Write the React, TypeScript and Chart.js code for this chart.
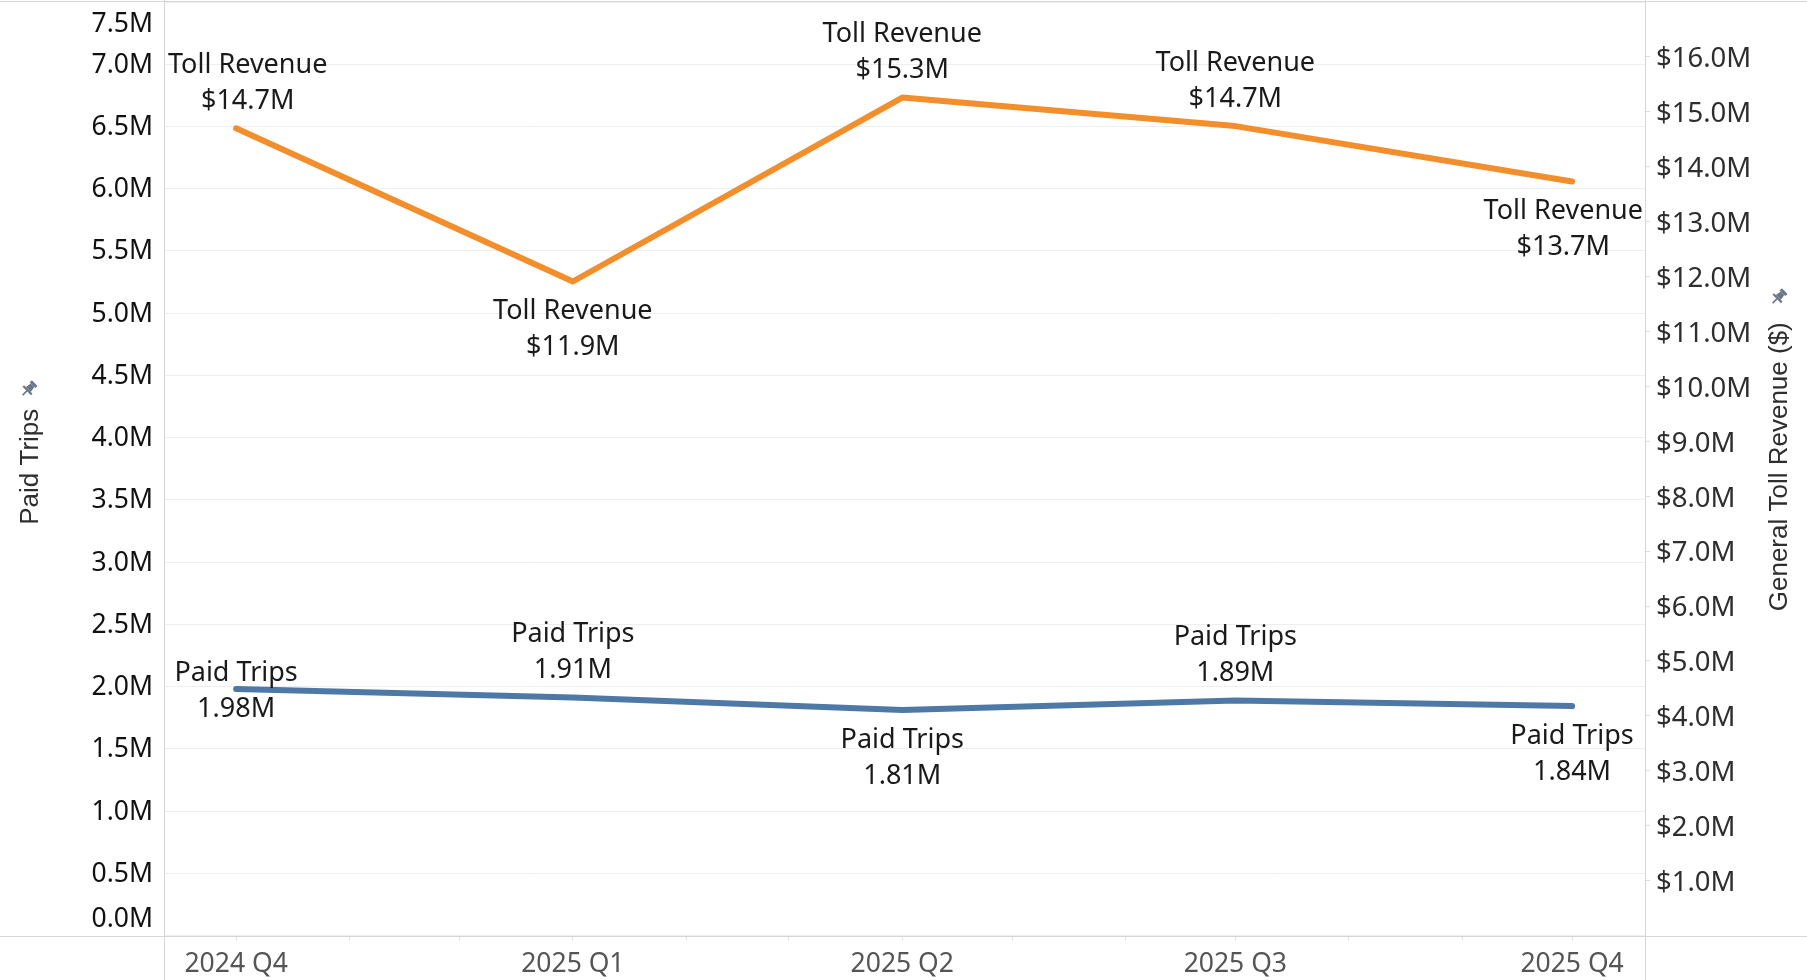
import React, { useEffect, useRef } from 'react';
import { Chart, registerables } from 'chart.js';

Chart.register(...registerables);

// ---------- data ----------
const categories = ['2024 Q4', '2025 Q1', '2025 Q2', '2025 Q3', '2025 Q4'];
const quarterStarts = ['2024-10-01', '2025-01-01', '2025-04-01', '2025-07-01', '2025-10-01'];
const monthStarts = [
  '2024-10-01', '2024-11-01', '2024-12-01', '2025-01-01', '2025-02-01', '2025-03-01', '2025-04-01',
  '2025-05-01', '2025-06-01', '2025-07-01', '2025-08-01', '2025-09-01', '2025-10-01',
];
const paidTrips = [1980000, 1912000, 1812000, 1888000, 1843000];
const tollRevenue = [14700000, 11910000, 15260000, 14740000, 13730000];
const paidTripsTicks = [
  0, 500000, 1000000, 1500000, 2000000, 2500000, 3000000, 3500000,
  4000000, 4500000, 5000000, 5500000, 6000000, 6500000, 7000000, 7500000,
];
const tollTicks = [
  1000000, 2000000, 3000000, 4000000, 5000000, 6000000, 7000000, 8000000,
  9000000, 10000000, 11000000, 12000000, 13000000, 14000000, 15000000, 16000000,
];
const seriesNames = ['Toll Revenue', 'Paid Trips'];
const tollLabelPlacement = ['above', 'below', 'above', 'above', 'below'];
const paidLabelPlacement = ['center', 'above', 'below', 'above', 'below'];

// ---------- helpers ----------
const DAY = 86400000;
const day0 = Date.parse(quarterStarts[0]);
const toDay = (s: string) => Math.round((Date.parse(s) - day0) / DAY);
const quarterDays = quarterStarts.map(toDay);
const monthDays = monthStarts.map(toDay);

const X_MIN = -19.7;
const X_MAX = 385.2;

const FONT = '"Noto Sans", "DejaVu Sans", sans-serif';
const TITLE_FONT = '"Liberation Sans", Arial, sans-serif';

const fmtTrips = (v: number) => (v / 1e6).toFixed(2) + 'M';
const fmtToll = (v: number) => '$' + (v / 1e6).toFixed(1) + 'M';

function drawPin(ctx: CanvasRenderingContext2D, cx: number, cy: number) {
  ctx.save();
  ctx.translate(cx, cy);
  ctx.rotate(Math.PI / 4);
  ctx.fillStyle = '#6b7787';
  ctx.fillRect(-4, -8, 8, 3);
  ctx.beginPath();
  ctx.moveTo(-2.5, -5);
  ctx.lineTo(2.5, -5);
  ctx.lineTo(3.5, 1);
  ctx.lineTo(-3.5, 1);
  ctx.closePath();
  ctx.fill();
  ctx.fillRect(-6, 1, 12, 2.2);
  ctx.fillRect(-0.8, 3, 1.6, 6);
  ctx.restore();
}

const zeroPad = (s: any) => {
  s.paddingTop = 0;
  s.paddingBottom = 0;
  s.paddingLeft = 0;
  s.paddingRight = 0;
};

const framePlugin = {
  id: 'frame',
  beforeDatasetsDraw(chart: any) {
    const { ctx, chartArea: a, width, height } = chart;
    ctx.save();
    ctx.lineWidth = 1;
    ctx.strokeStyle = '#d6d6d6';
    ctx.beginPath();
    ctx.moveTo(0, Math.round(a.top) - 0.5);
    ctx.lineTo(width, Math.round(a.top) - 0.5);
    ctx.moveTo(0, Math.round(a.bottom) + 0.5);
    ctx.lineTo(width, Math.round(a.bottom) + 0.5);
    ctx.moveTo(Math.round(a.left) + 0.5, 0);
    ctx.lineTo(Math.round(a.left) + 0.5, height);
    ctx.moveTo(Math.round(a.right) - 0.5, 0);
    ctx.lineTo(Math.round(a.right) - 0.5, height);
    ctx.stroke();
    ctx.restore();
  },
  afterDraw(chart: any) {
    const { ctx, chartArea: a } = chart;
    const yl = chart.scales.yLeft;
    ctx.save();
    // left tick labels (edge labels pulled inside like the reference)
    ctx.font = `26.5px ${FONT}`;
    ctx.fillStyle = '#111111';
    ctx.textAlign = 'right';
    ctx.textBaseline = 'middle';
    yl.ticks.forEach((t: any) => {
      let y = yl.getPixelForValue(t.value);
      y = Math.max(a.top + 21, Math.min(a.bottom - 17.5, y));
      ctx.fillText((t.value / 1e6).toFixed(1) + 'M', a.left - 11, y + 1);
    });
    // axis titles
    const cy = (a.top + a.bottom) / 2 - 2;
    ctx.font = `26px ${TITLE_FONT}`;
    ctx.fillStyle = '#2e2e2e';
    ctx.textAlign = 'center';
    ctx.save();
    ctx.translate(31, cy);
    ctx.rotate(-Math.PI / 2);
    ctx.fillText('Paid Trips', 0, 0);
    ctx.restore();
    ctx.save();
    ctx.translate(1780, cy);
    ctx.rotate(-Math.PI / 2);
    ctx.fillText('General Toll Revenue ($)', 0, 0);
    ctx.restore();
    drawPin(ctx, 29, cy - 78);
    drawPin(ctx, 1779, cy - 170);
    ctx.restore();
  },
  afterDatasetsDraw(chart: any) {
    const { ctx, chartArea: a } = chart;
    ctx.save();
    ctx.font = `27px ${FONT}`;
    ctx.fillStyle = '#1a1a1a';
    ctx.textAlign = 'center';
    ctx.textBaseline = 'middle';
    const sets = [
      { idx: 0, name: seriesNames[0], values: tollRevenue, fmt: fmtToll, place: tollLabelPlacement },
      { idx: 1, name: seriesNames[1], values: paidTrips, fmt: fmtTrips, place: paidLabelPlacement },
    ];
    sets.forEach((s) => {
      const meta = chart.getDatasetMeta(s.idx);
      meta.data.forEach((pt: any, i: number) => {
        const l1 = s.name;
        const l2 = s.fmt(s.values[i]);
        const w = Math.max(ctx.measureText(l1).width, ctx.measureText(l2).width);
        const cx = Math.max(a.left + 4 + w / 2, Math.min(a.right - 3 - w / 2, pt.x));
        let y1: number;
        if (s.place[i] === 'above') y1 = pt.y - 27 - 36;
        else if (s.place[i] === 'below') y1 = pt.y + 30;
        else y1 = pt.y - 16;
        ctx.fillText(l1, cx, y1);
        ctx.fillText(l2, cx, y1 + 36);
      });
    });
    ctx.restore();
  },
};

export default function App() {
  const ref = useRef<HTMLCanvasElement | null>(null);

  useEffect(() => {
    if (!ref.current) return;
    const chart = new Chart(ref.current, {
      type: 'line',
      data: {
        datasets: [
          {
            label: seriesNames[0],
            data: tollRevenue.map((v, i) => ({ x: quarterDays[i], y: v })),
            borderColor: '#F28E2B',
            backgroundColor: '#F28E2B',
            borderWidth: 6,
            borderCapStyle: 'round',
            borderJoinStyle: 'round',
            pointRadius: 0,
            yAxisID: 'yRight',
            tension: 0,
          },
          {
            label: seriesNames[1],
            data: paidTrips.map((v, i) => ({ x: quarterDays[i], y: v })),
            borderColor: '#4E79A7',
            backgroundColor: '#4E79A7',
            borderWidth: 6,
            borderCapStyle: 'round',
            borderJoinStyle: 'round',
            pointRadius: 0,
            yAxisID: 'yLeft',
            tension: 0,
          },
        ],
      },
      options: {
        responsive: false,
        animation: false,
        layout: { padding: { top: 2, left: 0, right: 0, bottom: 0 } },
        plugins: { legend: { display: false }, tooltip: { enabled: false } },
        scales: {
          x: {
            type: 'linear',
            min: X_MIN,
            max: X_MAX,
            afterBuildTicks: (s: any) => {
              s.ticks = monthDays.map((v) => ({ value: v }));
            },
            afterFit: (s: any) => {
              s.height = 44.5;
              zeroPad(s);
            },
            ticks: {
              autoSkip: false,
              maxRotation: 0,
              minRotation: 0,
              padding: 8,
              color: '#555555',
              font: { family: FONT, size: 26.5 },
              callback: (v: any) => {
                const k = quarterDays.indexOf(Math.round(Number(v)));
                return k >= 0 ? categories[k] : '';
              },
            },
            grid: { drawOnChartArea: false, drawTicks: true, tickLength: 5, color: '#e2e2e2' },
            border: { display: false },
          },
          yLeft: {
            type: 'linear',
            position: 'left',
            min: paidTripsTicks[0],
            max: paidTripsTicks[paidTripsTicks.length - 1],
            afterBuildTicks: (s: any) => {
              s.ticks = paidTripsTicks.map((v) => ({ value: v }));
            },
            afterFit: (s: any) => {
              s.width = 164;
              zeroPad(s);
            },
            ticks: { display: false },
            grid: { color: '#eeeeee', drawTicks: false, lineWidth: 1 },
            border: { display: false },
          },
          yRight: {
            type: 'linear',
            position: 'right',
            min: 0,
            max: 17000000,
            afterBuildTicks: (s: any) => {
              s.ticks = tollTicks.map((v) => ({ value: v }));
            },
            afterFit: (s: any) => {
              s.width = 161;
              zeroPad(s);
            },
            ticks: {
              padding: 6,
              labelOffset: 2.5,
              color: '#2e2e2e',
              font: { family: FONT, size: 27.5 },
              callback: (v: any) => fmtToll(Number(v)),
            },
            grid: { drawOnChartArea: false, drawTicks: true, tickLength: 4, color: '#dddddd' },
            border: { display: false },
          },
        },
      } as any,
      plugins: [framePlugin as any],
    });
    return () => chart.destroy();
  }, []);

  return (
    <canvas
      ref={ref}
      width={1807}
      height={980}
      style={{ position: 'fixed', left: 0, top: 0, display: 'block', background: '#ffffff' }}
    />
  );
}
